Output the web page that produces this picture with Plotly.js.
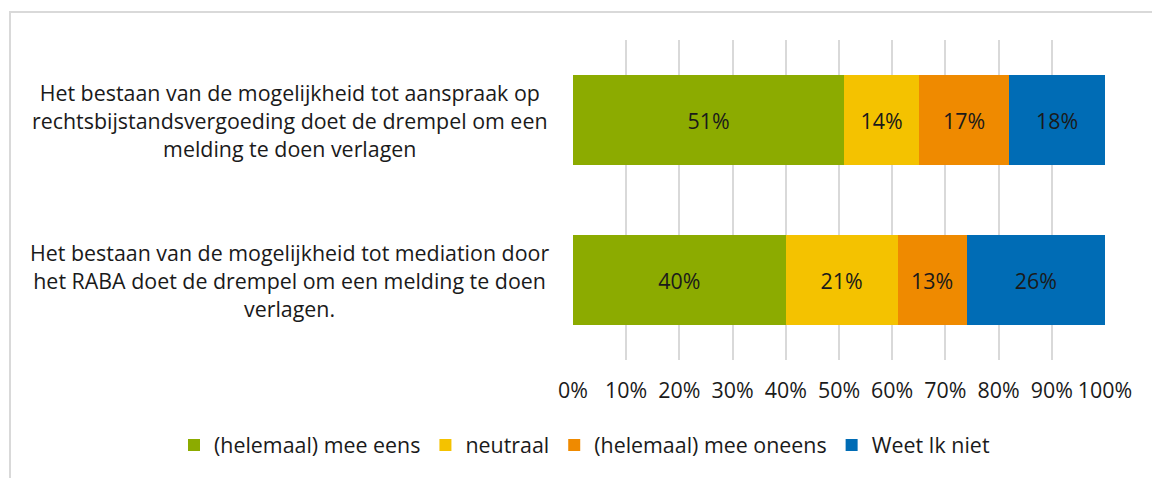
<!DOCTYPE html>
<html>
<head>
<meta charset="utf-8">
<script src="https://cdn.plot.ly/plotly-3.0.1.min.js"></script>
<style>
html,body{margin:0;padding:0;background:#fff;}
#frame{position:absolute;left:9px;top:11px;width:1200px;height:500px;border-top:2px solid #d9d9d9;border-left:2px solid #d9d9d9;}
#chart{position:absolute;left:0;top:0;width:1152px;height:478px;}
</style>
</head>
<body>
<div id="frame"></div>
<div id="chart"></div>
<script>
const categories = [
  "Het bestaan van de mogelijkheid tot aanspraak op<br>rechtsbijstandsvergoeding doet de drempel om een<br>melding te doen verlagen",
  "Het bestaan van de mogelijkheid tot mediation door<br>het RABA doet de drempel om een melding te doen<br>verlagen."
];
const catKeys = ["c1", "c2"];
const seriesNames = ["(helemaal) mee eens", "neutraal", "(helemaal) mee oneens", "Weet Ik niet"];
const eens = [51, 40];
const neutraal = [14, 21];
const oneens = [17, 13];
const weetniet = [18, 26];
const colors = ["#8cab00", "#f4c200", "#ef8a00", "#006cb5"];
const tickVals = [0, 10, 20, 30, 40, 50, 60, 70, 80, 90, 100];
const tickText = ["0%", "10%", "20%", "30%", "40%", "50%", "60%", "70%", "80%", "90%", "100%"];

const FONT = "'Open Sans', sans-serif";
const SIZE = 21.4;
const values = [eens, neutraal, oneens, weetniet];

const traces = values.map((v, i) => ({
  type: "bar",
  orientation: "h",
  name: seriesNames[i],
  x: v,
  y: catKeys,
  marker: {color: colors[i]},
  text: v.map(d => d + "%"),
  textposition: "inside",
  insidetextanchor: "middle",
  textfont: {family: FONT, size: SIZE, color: "#1a1a1a"},
  hoverinfo: "skip",
  width: 0.5625
}));

const annotations = catKeys.map((k, i) => ({
  xref: "paper", yref: "y",
  x: -0.532, y: k,
  xanchor: "center", yanchor: "middle",
  align: "center",
  text: categories[i],
  showarrow: false,
  font: {family: FONT, size: SIZE, color: "#1a1a1a"}
}));

const layout = {
  width: 1152, height: 478,
  paper_bgcolor: "rgba(0,0,0,0)",
  plot_bgcolor: "rgba(0,0,0,0)",
  margin: {l: 573, r: 47, t: 40, b: 118, autoexpand: false},
  barmode: "stack",
  showlegend: true,
  font: {family: FONT, size: SIZE, color: "#1a1a1a"},
  xaxis: {
    range: [0, 100],
    tickvals: tickVals,
    ticktext: tickText,
    showgrid: true,
    gridcolor: "#d9d9d9",
    gridwidth: 2,
    zeroline: false,
    showline: false,
    ticks: "",
    ticklabelstandoff: 16,
    tickfont: {family: FONT, size: SIZE, color: "#1a1a1a"},
    fixedrange: true
  },
  yaxis: {
    type: "category",
    categoryorder: "array",
    categoryarray: catKeys,
    autorange: "reversed",
    showticklabels: false,
    showgrid: false,
    zeroline: false,
    ticks: "",
    fixedrange: true
  },
  legend: {
    orientation: "h",
    x: -0.75,
    xanchor: "left",
    y: -0.266,
    yanchor: "middle",
    font: {family: FONT, size: SIZE, color: "#1a1a1a"},
    traceorder: "normal"
  },
  annotations: annotations
};

Plotly.newPlot("chart", traces, layout, {displayModeBar: false, staticPlot: true});
</script>
</body>
</html>
